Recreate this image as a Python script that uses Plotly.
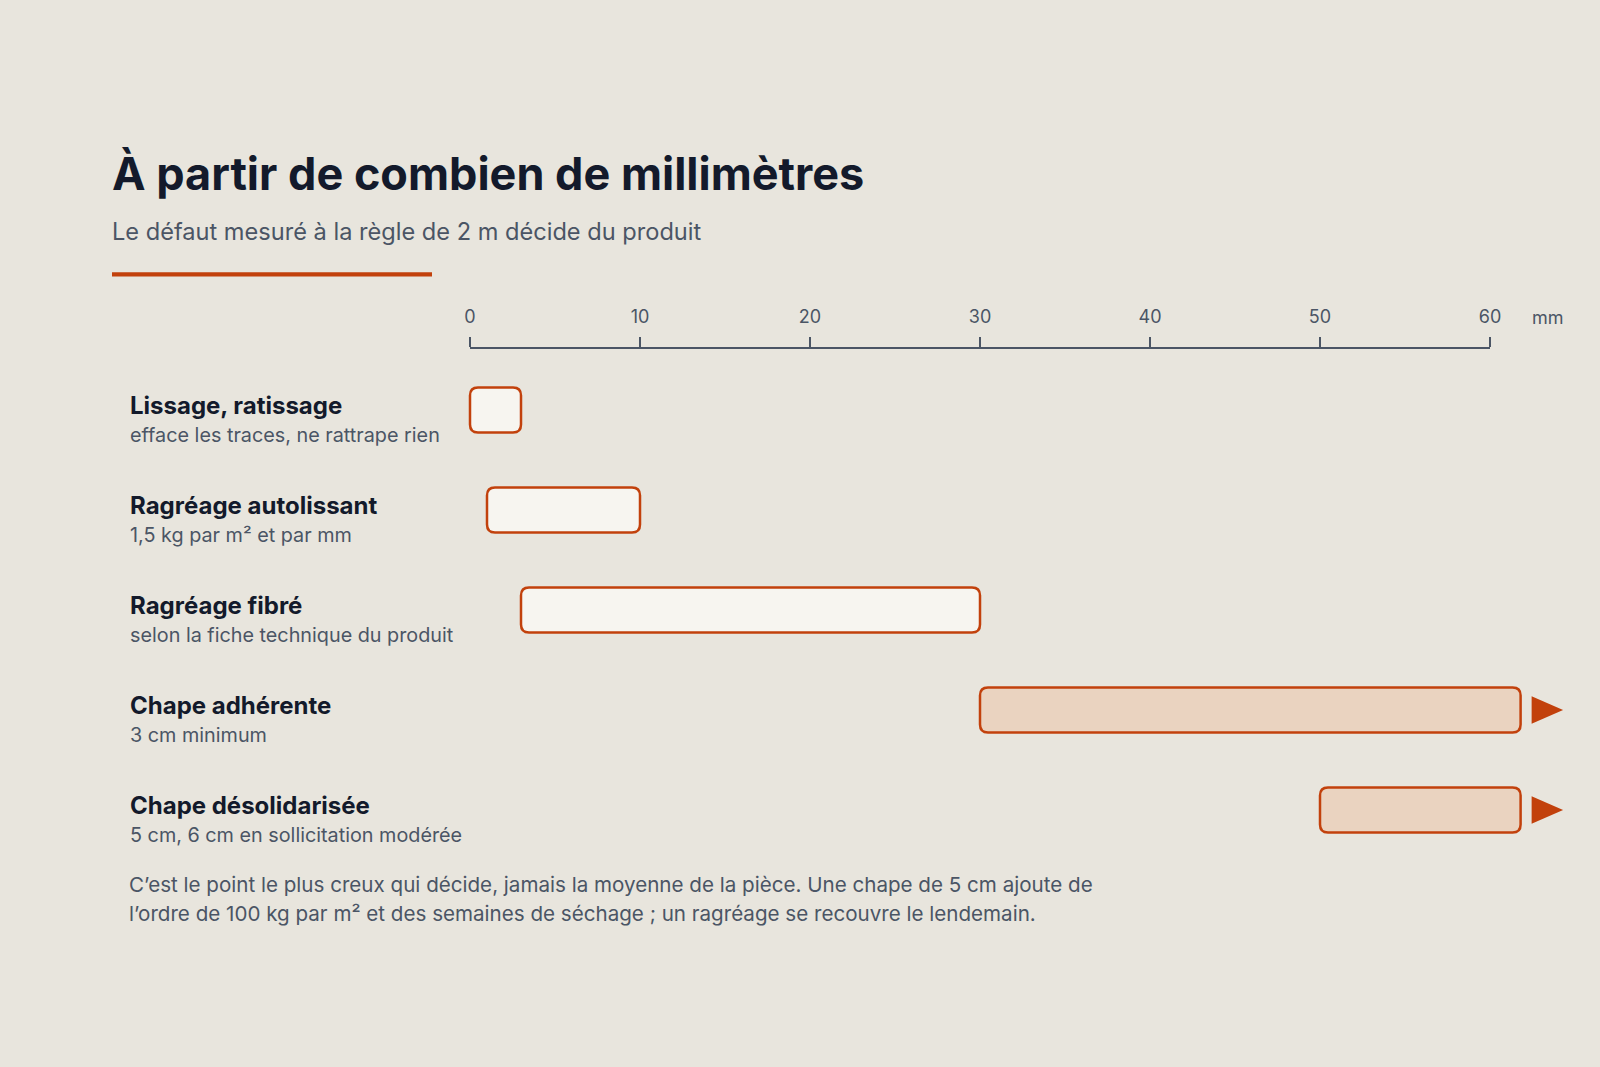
import plotly.graph_objects as go

# ---------------- data ----------------
products = ["Lissage, ratissage", "Ragréage autolissant", "Ragréage fibré",
            "Chape adhérente", "Chape désolidarisée"]
details = ["efface les traces, ne rattrape rien", "1,5 kg par m² et par mm",
           "selon la fiche technique du produit", "3 cm minimum",
           "5 cm, 6 cm en sollicitation modérée"]
min_mm = [0, 1, 3, 30, 50]
max_mm = [3, 10, 30, 61.8, 61.8]
open_ended = [False, False, False, True, True]
tick_vals = [0, 10, 20, 30, 40, 50, 60]
title = "À partir de combien de millimètres"
subtitle = "Le défaut mesuré à la règle de 2 m décide du produit"
note_lines = ["C’est le point le plus creux qui décide, jamais la moyenne de la pièce. Une chape de 5 cm ajoute de",
              "l’ordre de 100 kg par m² et des semaines de séchage ; un ragréage se recouvre le lendemain."]

# ---------------- style ----------------
W, H = 1600, 1067
BG = "#e8e5dd"
DARK = "#131a2b"
GREY = "#4b5565"
ORANGE = "#c2410c"
FILL_LIGHT = "#f7f5f0"
FILL_WARM = "#ead3c0"
FONT = "Inter"

X0PX, PXMM = 470.0, 17.0      # pixel of 0 mm, pixels per mm
ROW0, ROWH = 410, 100         # pixel centre of first row, row pitch


def py(p):
    return 1 - p / H


fig = go.Figure()

# bars (rounded rectangles)
rx = 8 / PXMM
ry = 8 / ROWH
bh = 0.225
for i, (a, b, op) in enumerate(zip(min_mm, max_mm, open_ended)):
    y0, y1 = i - bh, i + bh
    path = (f"M {a+rx},{y0} L {b-rx},{y0} Q {b},{y0} {b},{y0+ry} L {b},{y1-ry} "
            f"Q {b},{y1} {b-rx},{y1} L {a+rx},{y1} Q {a},{y1} {a},{y1-ry} "
            f"L {a},{y0+ry} Q {a},{y0} {a+rx},{y0} Z")
    fig.add_shape(type="path", path=path, xref="x", yref="y",
                  fillcolor=FILL_WARM if op else FILL_LIGHT,
                  line=dict(color=ORANGE, width=2.5), layer="above")
    if op:
        t0 = b + 11 / PXMM
        t1 = b + 42.5 / PXMM
        th = 0.137
        fig.add_shape(type="path", path=f"M {t0},{i-th} L {t1},{i} L {t0},{i+th} Z",
                      xref="x", yref="y", fillcolor=ORANGE, line=dict(width=0),
                      layer="above")

# dummy trace so the ruler axis is drawn
fig.add_trace(go.Scatter(x=[0, 60], y=[None, None], xaxis="x2", yaxis="y",
                         mode="markers", showlegend=False, hoverinfo="skip"))

# row labels
for i, (p, d) in enumerate(zip(products, details)):
    fig.add_annotation(x=127.5 / W, xref="paper", y=i - 0.05, yref="y", text=p,
                       showarrow=False, xanchor="left", yanchor="middle",
                       font=dict(family=FONT, size=24, color=DARK, weight=700))
    fig.add_annotation(x=127.5 / W, xref="paper", y=i + 0.25, yref="y", text=d,
                       showarrow=False, xanchor="left", yanchor="middle",
                       font=dict(family=FONT, size=19.8, color=GREY))

# title, subtitle, rule
fig.add_annotation(x=110 / W, xref="paper", y=py(173), yref="paper", text=title,
                   showarrow=False, xanchor="left", yanchor="middle",
                   font=dict(family=FONT, size=45, color=DARK, weight=700))
fig.add_annotation(x=110 / W, xref="paper", y=py(231), yref="paper", text=subtitle,
                   showarrow=False, xanchor="left", yanchor="middle",
                   font=dict(family=FONT, size=23.6, color=GREY))
fig.add_shape(type="rect", xref="paper", yref="paper", x0=112 / W, x1=432 / W,
              y0=py(276.5), y1=py(272.3), fillcolor=ORANGE, line=dict(width=0))

# unit label
fig.add_annotation(x=1548 / W, xref="paper", y=py(318), yref="paper", text="mm",
                   showarrow=False, xanchor="center", yanchor="middle",
                   font=dict(family=FONT, size=18, color=GREY))

# note
for k, line in enumerate(note_lines):
    fig.add_annotation(x=127 / W, xref="paper", y=py(884 + 29 * k), yref="paper",
                       text=line, showarrow=False, xanchor="left", yanchor="middle",
                       font=dict(family=FONT, size=20.6, color=GREY))

fig.update_layout(
    width=W, height=H, autosize=False,
    margin=dict(l=0, r=0, t=0, b=0, pad=0, autoexpand=False),
    paper_bgcolor=BG, plot_bgcolor=BG, showlegend=False,
    xaxis=dict(range=[-X0PX / PXMM, (W - X0PX) / PXMM], domain=[0, 1],
               visible=False, fixedrange=True, automargin=False),
    yaxis=dict(range=[(H - ROW0) / ROWH, -ROW0 / ROWH], domain=[0, 1],
               visible=False, fixedrange=True, automargin=False),
    xaxis2=dict(domain=[X0PX / W, (X0PX + 60 * PXMM) / W], range=[0, 60],
                anchor="free", position=py(347.5), side="top", automargin=False,
                tickvals=tick_vals, ticks="outside", ticklen=10, tickwidth=1.5,
                tickcolor=GREY, showline=True, linecolor=GREY, linewidth=2,
                showgrid=False, zeroline=False, ticklabelstandoff=6,
                tickfont=dict(family=FONT, size=18, color=GREY), fixedrange=True),
)

# the page body has an 8px default margin; remove it so the 1600x1067 figure fills the window
fix_margin = "document.body.style.margin='0'; document.body.style.background='" + BG + "';"
fig.write_html("out.html", config={"responsive": False, "displayModeBar": False},
               post_script=fix_margin)
